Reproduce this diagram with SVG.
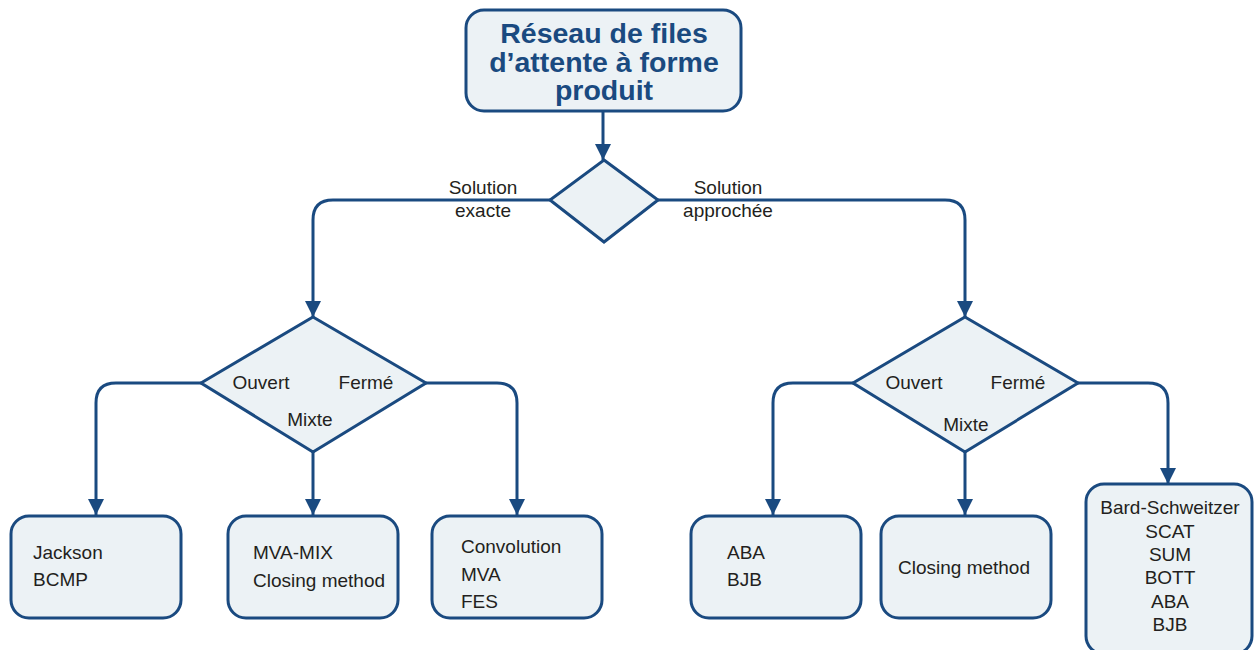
<svg xmlns="http://www.w3.org/2000/svg" width="1254" height="650" viewBox="0 0 1254 650">
<defs>
<marker id="ah" viewBox="0 0 10 10" refX="10" refY="5" markerWidth="16" markerHeight="16" markerUnits="userSpaceOnUse" orient="auto">
<path d="M0,0 L10,5 L0,10 Z" fill="#1a4a80"/>
</marker>
<style>
.box{fill:#ecf2f5;stroke:#1a4a80;stroke-width:3}
.ln{fill:none;stroke:#1a4a80;stroke-width:3;marker-end:url(#ah)}
.t{font-family:"Liberation Sans",Arial,sans-serif;font-size:19px;fill:#231f20}
.lb{font-family:"Liberation Sans",Arial,sans-serif;font-size:19px;fill:#231f20;text-anchor:middle}
.title{font-family:"Liberation Sans",Arial,sans-serif;font-size:28.5px;font-weight:bold;fill:#1a4a80;text-anchor:middle}
</style>
</defs>
<rect width="1254" height="650" fill="#ffffff"/>
<g id="connectors">
<path class="ln" d="M603,111 V160"/>
<path class="ln" d="M550,200 H333 Q313,200 313,220 V317"/>
<path class="ln" d="M658,200 H945 Q965,200 965,220 V317"/>
<path class="ln" d="M201,383 H116 Q96,383 96,403 V515"/>
<path class="ln" d="M313,452 V515"/>
<path class="ln" d="M426,383 H497 Q517,383 517,403 V515"/>
<path class="ln" d="M853,383 H793 Q773,383 773,403 V515"/>
<path class="ln" d="M965,452 V515"/>
<path class="ln" d="M1078,383 H1148 Q1168,383 1168,403 V484"/>
</g>
<g id="labels">
<text class="lb" x="483" y="194">Solution</text>
<text class="lb" x="483" y="217">exacte</text>
<text class="lb" x="728" y="194">Solution</text>
<text class="lb" x="728" y="217">approchée</text>
</g>
<g id="root">
<rect class="box" x="466" y="10" width="275" height="101" rx="18"/>
<text class="title" x="604" y="43">Réseau de files</text>
<text class="title" x="604" y="72">d’attente à forme</text>
<text class="title" x="604" y="100">produit</text>
</g>
<g id="decision1">
<polygon class="box" points="604,160 658,200 604,242 550,200"/>
</g>
<g id="decision2">
<polygon class="box" points="313,317 426,383 313,452 201,383"/>
<text class="lb" x="261" y="389">Ouvert</text>
<text class="lb" x="366" y="389">Fermé</text>
<text class="lb" x="310" y="426">Mixte</text>
</g>
<g id="decision3">
<polygon class="box" points="965,317 1078,383 965,452 853,383"/>
<text class="lb" x="914" y="389">Ouvert</text>
<text class="lb" x="1018" y="389">Fermé</text>
<text class="lb" x="966" y="431">Mixte</text>
</g>
<g id="box1">
<rect class="box" x="11" y="516" width="170" height="102" rx="18"/>
<text class="t" x="33" y="559">Jackson</text>
<text class="t" x="33" y="586">BCMP</text>
</g>
<g id="box2">
<rect class="box" x="228" y="516" width="170" height="102" rx="18"/>
<text class="t" x="253" y="559">MVA-MIX</text>
<text class="t" x="253" y="587">Closing method</text>
</g>
<g id="box3">
<rect class="box" x="432" y="516" width="170" height="102" rx="18"/>
<text class="t" x="461" y="553">Convolution</text>
<text class="t" x="461" y="581">MVA</text>
<text class="t" x="461" y="608">FES</text>
</g>
<g id="box4">
<rect class="box" x="691" y="516" width="170" height="102" rx="18"/>
<text class="t" x="727" y="559">ABA</text>
<text class="t" x="727" y="586">BJB</text>
</g>
<g id="box5">
<rect class="box" x="881" y="516" width="170" height="102" rx="18"/>
<text class="t" x="964" y="574" text-anchor="middle">Closing method</text>
</g>
<g id="box6">
<rect class="box" x="1086" y="484" width="166" height="170" rx="18"/>
<text class="t" text-anchor="middle" x="1170" y="514">Bard-Schweitzer</text>
<text class="t" text-anchor="middle" x="1170" y="538">SCAT</text>
<text class="t" text-anchor="middle" x="1170" y="561">SUM</text>
<text class="t" text-anchor="middle" x="1170" y="584">BOTT</text>
<text class="t" text-anchor="middle" x="1170" y="608">ABA</text>
<text class="t" text-anchor="middle" x="1170" y="631">BJB</text>
</g>
</svg>
